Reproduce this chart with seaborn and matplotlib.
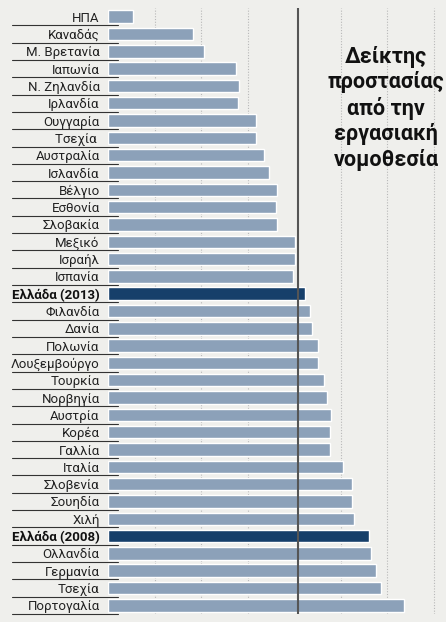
import matplotlib
matplotlib.use("Agg")
import matplotlib.pyplot as plt
import matplotlib.transforms as mtransforms
import seaborn as sns
import pandas as pd

countries = ["ΗΠΑ", "Καναδάς", "Μ. Βρετανία", "Ιαπωνία", "Ν. Ζηλανδία", "Ιρλανδία",
             "Ουγγαρία", "Τσεχία ", "Αυστραλία", "Ισλανδία", "Βέλγιο", "Εσθονία",
             "Σλοβακία", "Μεξικό", "Ισραήλ", "Ισπανία", "Ελλάδα (2013)", "Φιλανδία",
             "Δανία", "Πολωνία", "Λουξεμβούργο", "Τουρκία", "Νορβηγία", "Αυστρία",
             "Κορέα", "Γαλλία", "Ιταλία", "Σλοβενία", "Σουηδία", "Χιλή",
             "Ελλάδα (2008)", "Ολλανδία", "Γερμανία", "Τσεχία", "Πορτογαλία"]
values = [0.27, 0.91, 1.03, 1.38, 1.41, 1.40,
          1.59, 1.59, 1.68, 1.73, 1.81, 1.80,
          1.82, 2.01, 2.01, 1.99, 2.12, 2.17,
          2.19, 2.25, 2.25, 2.32, 2.35, 2.39,
          2.38, 2.38, 2.52, 2.62, 2.62, 2.64,
          2.80, 2.82, 2.88, 2.93, 3.18]
oecd_avg = 2.04
greece = ["Ελλάδα (2013)", "Ελλάδα (2008)"]
grid_ticks = [0.5, 1.0, 1.5, 2.5, 3.0, 3.5]
title = "Δείκτης\nπροστασίας\nαπό την\nεργασιακή\nνομοθεσία"

bg = "#efefec"
bar_col = "#8ca1b9"
dark_col = "#163f6a"

df = pd.DataFrame({"country": countries, "value": values})
palette = {c: (dark_col if c in greece else bar_col) for c in countries}

sns.set_theme(style="white")
plt.rcParams["font.family"] = ["Roboto", "DejaVu Sans"]

fig = plt.figure(figsize=(4.46, 6.22), dpi=100, facecolor=bg)
ax = fig.add_axes([108 / 446, 8 / 622, 1 - 108 / 446, 606 / 622])
ax.set_facecolor(bg)

for g in grid_ticks:
    ax.axvline(g, color="#b8b8b8", lw=0.8, ls=(0, (1, 1.5)), zorder=0)

sns.barplot(data=df, y="country", x="value", hue="country", palette=palette,
            legend=False, width=0.72, saturation=1, ax=ax, zorder=2)

ax.axvline(oecd_avg, color="#555555", lw=1.5, zorder=3)

ax.set_xlim(0, 3.63)
ax.set_ylim(len(countries) - 0.5, -0.5)
ax.set_xlabel("")
ax.set_ylabel("")
ax.set_xticks([])
ax.tick_params(axis="y", length=0, pad=6, labelsize=9.5, labelcolor="#222222")
for lbl in ax.get_yticklabels():
    if lbl.get_text() in greece:
        lbl.set_fontweight("bold")
        lbl.set_color("#111111")
for s in ax.spines.values():
    s.set_visible(False)

# underlines beneath the labels
trans = mtransforms.blended_transform_factory(fig.transFigure, ax.transData)
for i in range(len(countries)):
    ax.plot([12 / 446, 118 / 446], [i + 0.5, i + 0.5], transform=trans,
            color="#333333", lw=0.8, clip_on=False, zorder=1)

fig.text(386 / 446, 1 - 46 / 622, title, ha="center", va="top", fontsize=15.5,
         fontweight="bold", color="#111111", linespacing=1.2)

fig.savefig("out.png", dpi=100, facecolor=bg)
